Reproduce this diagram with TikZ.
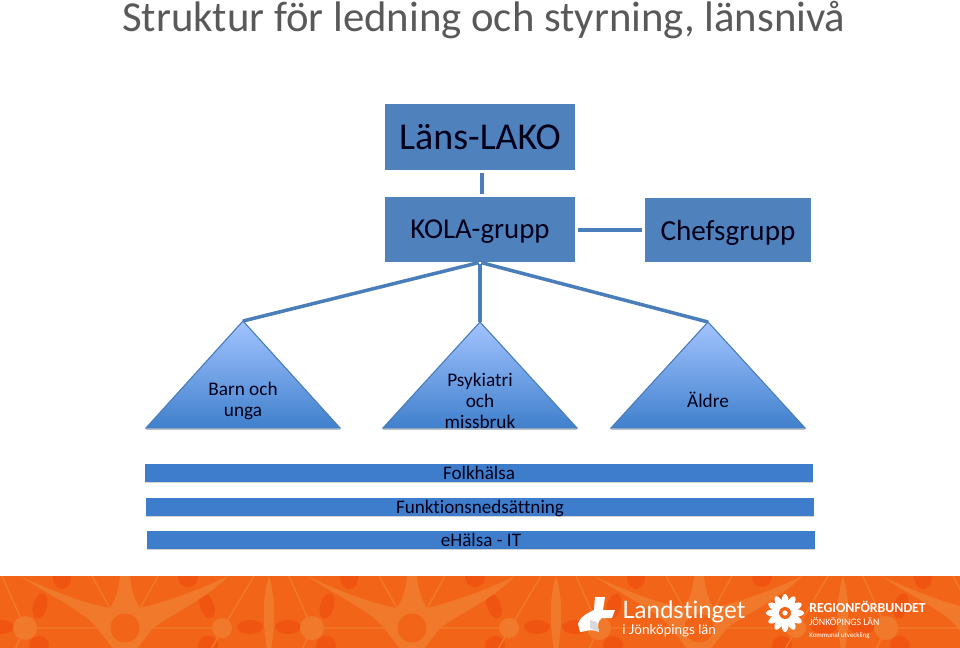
\documentclass[tikz,border=0pt]{standalone}
\usepackage{fontspec}
\setmainfont{Carlito}[Ligatures=CommonOff]
\newfontfamily\logofont{Lato}[Ligatures=CommonOff]
\usetikzlibrary{shadows}
\definecolor{boxblue}{HTML}{4F81BD}
\definecolor{linkblue}{HTML}{4A7EBB}
\definecolor{barblue}{HTML}{3D7DCC}
\definecolor{triatop}{HTML}{A3C4FF}
\definecolor{triabottom}{HTML}{4080CC}
\definecolor{titlegray}{HTML}{595959}
\definecolor{bandbase}{HTML}{F26518}
\definecolor{bandlight}{HTML}{F1792B}
\definecolor{banddark}{HTML}{EF5511}
\tikzset{
    groupbox/.style={fill=boxblue, inner sep=0pt, text=black!90!blue, text depth=0pt},
    link/.style={linkblue, line width=2.5pt, shorten <=2pt, shorten >=2pt},
    barbox/.style={fill=barblue, inner sep=0pt, minimum width=668*0.7113pt, minimum height=18*0.7113pt, text depth=0pt,
        font=\fontsize{13.6}{13.6}\selectfont, text=black!90!blue, drop shadow={shadow xshift=0pt, shadow yshift=-1pt, opacity=.35}},
    trialabel/.style={align=center, font=\fontsize{13.7}{15}\selectfont, text=black!90!blue},
    logotext/.style={anchor=base west, inner sep=0pt, text=white}
}
\begin{document}
\begin{tikzpicture}[x=0.025cm, y=-0.025cm]
    \useasboundingbox (0,0) rectangle (960,648);
    \node[anchor=base west, inner sep=0pt, text=titlegray, font=\fontsize{30.4}{31}\selectfont] (title) at (122,32) {Struktur för ledning och styrning, länsnivå};

    % boxes
    \node[groupbox, minimum width=190*0.7113pt, minimum height=66*0.7113pt, font=\fontsize{27}{27}\selectfont] (lako) at (480,137) {Läns-LAKO};
    \node[groupbox, minimum width=190*0.7113pt, minimum height=65*0.7113pt, font=\fontsize{20.5}{20.5}\selectfont] (kola) at (480,229.5) {KOLA-grupp};
    \node[groupbox, minimum width=166*0.7113pt, minimum height=64*0.7113pt, font=\fontsize{20.7}{20.7}\selectfont] (chefs) at (728,230) {Chefsgrupp};

    % triangles
    \foreach \name/\x/\top/\ytext/\xtext in {barn/243/321/401/{Barn och\\unga}, psyk/480/322/401/{Psykiatri\\och\\missbruk}, aldre/708/322/400/{Äldre}} {
        \coordinate (\name) at (\x,\top);
        \fill[black, opacity=.25] (\x-97,429) rectangle (\x+97,430);
        \shade[draw=linkblue, thick, top color=triatop, bottom color=triabottom] (\name) -- (\x+97,428) -- (\x-97,428) -- cycle;
        \node[trialabel] (\name text) at (\x,\ytext) {\xtext};
    }

    % links
    \draw[link] ([xshift=1.4pt]lako.south) -- ([xshift=1.4pt]kola.north);
    \draw[link] (kola.east |- chefs.west) -- (chefs.west);
    \draw[link, shorten <=1pt, shorten >=0pt] (kola.south) -- (barn);
    \draw[link, shorten <=1pt, shorten >=0pt] (kola.south) -- (psyk);
    \draw[link, shorten <=1pt, shorten >=0pt] (kola.south) -- (aldre);

    % bars
    \node[barbox] (folk) at (479,473) {Folkhälsa};
    \node[barbox] (funk) at (480,507) {Funktionsnedsättning};
    \node[barbox] (ehalsa) at (481,540) {eHälsa - IT};

    % band
    \begin{scope}
        \clip (0,576) rectangle (960,648);
        \fill[bandbase] (0,576) rectangle (960,648);
        \foreach \o in {-287,0,287,574,861} {
            \begin{scope}[shift={(\o,0)}]
                \fill[banddark] (62,578) ellipse (9 and 11);
                \fill[banddark] (188,578) ellipse (10 and 9);
                \fill[banddark, rotate around={-15:(40,606)}] (40,606) ellipse (7 and 13);
                \fill[banddark, rotate around={20:(207,606)}] (207,606) ellipse (7 and 13);
                \fill[banddark] (250,627) ellipse (13 and 7);
                \fill[banddark] (288,627) ellipse (13 and 7);
                \fill[banddark] (39,645) ellipse (10 and 9);
                \fill[banddark] (208,645) ellipse (10 and 9);
                \fill[bandlight] (269,576) .. controls (262,600) and (262,625) .. (269,660) .. controls (276,625) and (276,600) .. (269,576) -- cycle;
                % star
                \fill[bandlight] (120,576) -- (130,576) .. controls (131,590) and (135,600) .. (140,608) .. controls (165,602) and (200,590) .. (228,576) .. controls (205,600) and (175,612) .. (153,628) .. controls (140,645) and (135,650) .. (130,660) -- (120,660) .. controls (115,650) and (110,645) .. (97,628) .. controls (85,612) and (50,596) .. (20,576) .. controls (50,590) and (85,604) .. (110,608) .. controls (115,600) and (119,590) .. (120,576) -- cycle;
                \draw[bandlight, line width=1pt] (92,576) -- (112,612) (158,576) -- (138,612) (25,628) -- (223,628) (223,628) -- (254,576) (223,628) -- (205,660);
                \draw[bandlight, line width=1pt] (25,628) -- (2,576) (25,628) -- (10,660);
                \fill[bandlight] (25,628) circle (12);
                \fill[bandlight] (222,628) circle (10);
                \fill[bandbase] (125,628) circle (14.5);
            \end{scope}
        }
    \end{scope}

    % logos
    \fill[white] (595,597) -- (605,597) -- (603,610) -- (615,610) -- (612,618) -- (602,618) .. controls (598,620) and (597,626) .. (599,632) .. controls (590,628) and (585,632) .. (580,632) -- (578,624) .. controls (580,616) and (590,612) .. (594,610) -- cycle;
    \fill[gray!30] (590,620) -- (597,622) -- (599,632) -- (590,628) -- cycle;
    \node[logotext, font=\logofont\fontsize{17.1}{17.1}\selectfont] (landsting) at (622,618) {Landstinget};
    \node[logotext, font=\logofont\fontsize{9.6}{9.6}\selectfont] (jkpg) at (622,634) {i Jönköpings län};
    \foreach \a in {0,30,...,330} \fill[white, rotate around={\a:(785,613)}] (785,602) ellipse (3.6 and 8);
    \fill[bandbase] (785,613) circle (6);
    \fill[white] (785,613) circle (2.6);
    \node[logotext, font=\bfseries\fontsize{9.8}{9.8}\selectfont] (region) at (809,612) {REGIONFÖRBUNDET};
    \node[logotext, font=\fontsize{7}{7}\selectfont] (lan) at (809,625) {JÖNKÖPINGS LÄN};
    \node[logotext, font=\fontsize{4.9}{4.9}\selectfont] (kommunal) at (809,637) {Kommunal utveckling};
\end{tikzpicture}
\end{document}
